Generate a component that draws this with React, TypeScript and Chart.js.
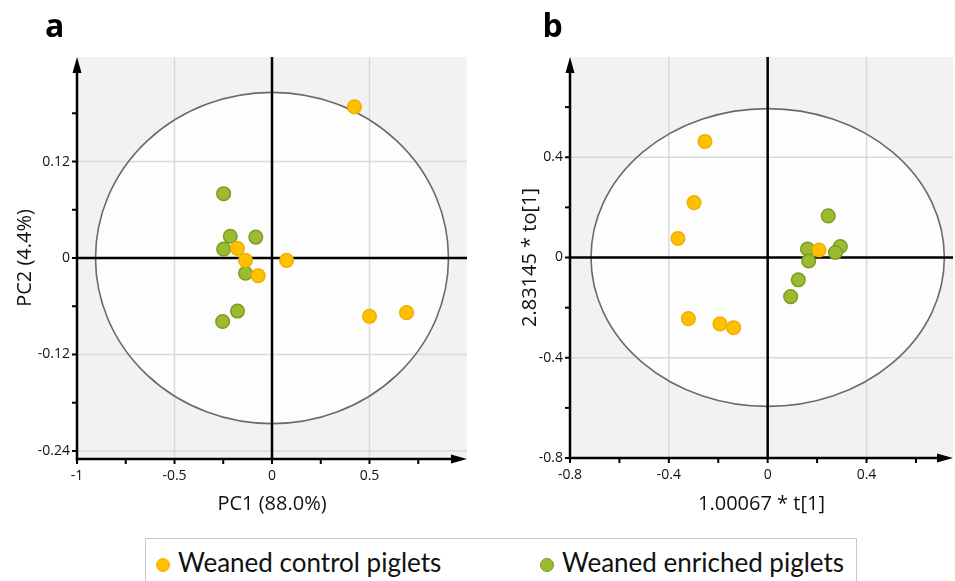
import React, { useEffect, useRef } from 'react';
import { Chart, registerables } from 'chart.js';

Chart.register(...registerables);

// ---------- Data: panel a (PCA scores) ----------
const controlAX = [0.423, -0.177, -0.136, 0.075, -0.071, 0.5, 0.69];
const controlAY = [0.188, 0.012, -0.003, -0.003, -0.022, -0.0725, -0.068];
const enrichedAX = [-0.248, -0.214, -0.083, -0.248, -0.136, -0.177, -0.253];
const enrichedAY = [0.08, 0.027, 0.026, 0.011, -0.019, -0.066, -0.079];

const xMajorA = [-1, -0.5, 0, 0.5];
const xLabelsA = ['-1', '-0.5', '0', '0.5'];
const xMinorA = [-0.75, -0.25, 0.25, 0.75];
const yMajorA = [-0.24, -0.12, 0, 0.12];
const yLabelsA = ['-0.24', '-0.12', '0', '0.12'];
const yMinorA = [-0.18, -0.06, 0.06, 0.18];

// ---------- Data: panel b (OPLS-DA scores) ----------
const controlBX = [-0.254, -0.298, -0.363, 0.208, -0.321, -0.193, -0.138];
const controlBY = [0.463, 0.219, 0.076, 0.03, -0.244, -0.265, -0.28];
const enrichedBX = [0.245, 0.161, 0.294, 0.274, 0.166, 0.124, 0.093];
const enrichedBY = [0.166, 0.034, 0.044, 0.02, -0.014, -0.089, -0.156];

const xMajorB = [-0.8, -0.4, 0, 0.4];
const xLabelsB = ['-0.8', '-0.4', '0', '0.4'];
const xMinorB = [-0.6, -0.2, 0.2, 0.6];
const yMajorB = [-0.8, -0.4, 0, 0.4];
const yLabelsB = ['-0.8', '-0.4', '0', '0.4'];
const yMinorB = [-0.6, -0.2, 0.2, 0.6];

const seriesNames = ['Weaned control piglets', 'Weaned enriched piglets'];

const ORANGE = '#FFC000';
const ORANGE_B = '#EFB000';
const GREEN = '#9BBB30';
const GREEN_B = '#7E9C22';
const TEXT = '#111111';
const FONT = '"Open Sans", "Noto Sans", sans-serif';

interface PanelCfg {
  letter: string;
  letterX: number;
  left: number;
  w: number;
  h: number;
  areaLeft: number;
  areaRight: number;
  areaTop: number;
  areaBottom: number;
  xMin: number;
  xMax: number;
  yMin: number;
  yMax: number;
  xMajor: number[];
  xLabels: string[];
  xMinor: number[];
  yMajor: number[];
  yLabels: string[];
  yMinor: number[];
  ellRx: number;
  ellRy: number;
  xTitle: string;
  yTitle: string;
  yTitleCenter: number;
  cX: number[];
  cY: number[];
  eX: number[];
  eY: number[];
}

const panelA: PanelCfg = {
  letter: 'a', letterX: 45, left: 0, w: 480, h: 530,
  areaLeft: 77, areaRight: 467, areaTop: 57, areaBottom: 459,
  xMin: -1, xMax: 1, yMin: -0.25, yMax: 0.25,
  xMajor: xMajorA, xLabels: xLabelsA, xMinor: xMinorA,
  yMajor: yMajorA, yLabels: yLabelsA, yMinor: yMinorA,
  ellRx: 0.905, ellRy: 0.206,
  xTitle: 'PC1 (88.0%)', yTitle: 'PC2 (4.4%)', yTitleCenter: 25,
  cX: controlAX, cY: controlAY, eX: enrichedAX, eY: enrichedAY,
};

const panelB: PanelCfg = {
  letter: 'b', letterX: 62.5, left: 480, w: 495, h: 530,
  areaLeft: 90, areaRight: 473, areaTop: 57, areaBottom: 458,
  xMin: -0.8, xMax: 0.75, yMin: -0.8, yMax: 0.8,
  xMajor: xMajorB, xLabels: xLabelsB, xMinor: xMinorB,
  yMajor: yMajorB, yLabels: yLabelsB, yMinor: yMinorB,
  ellRx: 0.715, ellRy: 0.594,
  xTitle: '1.00067 * t[1]', yTitle: '2.83145 * to[1]', yTitleCenter: 50,
  cX: controlBX, cY: controlBY, eX: enrichedBX, eY: enrichedBY,
};

function decorPlugin(cfg: PanelCfg) {
  return {
    id: 'decor',
    beforeDraw(chart: any) {
      const { ctx, chartArea: ca } = chart;
      const xs = chart.scales.x;
      const ys = chart.scales.y;
      const px = (v: number) => xs.getPixelForValue(v);
      const py = (v: number) => ys.getPixelForValue(v);
      const line = (x1: number, y1: number, x2: number, y2: number) => {
        ctx.beginPath();
        ctx.moveTo(x1, y1);
        ctx.lineTo(x2, y2);
        ctx.stroke();
      };
      ctx.save();
      ctx.fillStyle = '#f2f2f2';
      ctx.fillRect(ca.left, ca.top, ca.right - ca.left, ca.bottom - ca.top);
      const cx = px(0);
      const cy = py(0);
      const rx = px(cfg.ellRx) - cx;
      const ry = cy - py(cfg.ellRy);
      ctx.beginPath();
      ctx.ellipse(cx, cy, rx, ry, 0, 0, Math.PI * 2);
      ctx.fillStyle = '#fdfdfd';
      ctx.fill();
      ctx.strokeStyle = '#d9d9d9';
      ctx.lineWidth = 1.5;
      cfg.xMajor.filter((v) => v !== 0 && v !== cfg.xMin).forEach((v) => line(px(v), ca.top, px(v), ca.bottom));
      cfg.yMajor.filter((v) => v !== 0 && v !== cfg.yMin).forEach((v) => line(ca.left, py(v), ca.right, py(v)));
      ctx.beginPath();
      ctx.ellipse(cx, cy, rx, ry, 0, 0, Math.PI * 2);
      ctx.strokeStyle = '#6a6a6a';
      ctx.lineWidth = 1.6;
      ctx.stroke();
      ctx.strokeStyle = '#000';
      ctx.lineWidth = 2.5;
      line(cx, ca.top, cx, ca.bottom);
      line(ca.left, cy, ca.right, cy);
      line(ca.left, ca.bottom + 1.2, ca.left, ca.top + 10);
      line(ca.left - 1.2, ca.bottom, ca.right - 10, ca.bottom);
      ctx.fillStyle = '#000';
      ctx.beginPath();
      ctx.moveTo(ca.left, ca.top);
      ctx.lineTo(ca.left - 4.5, ca.top + 16);
      ctx.lineTo(ca.left + 4.5, ca.top + 16);
      ctx.closePath();
      ctx.fill();
      ctx.beginPath();
      ctx.moveTo(ca.right, ca.bottom);
      ctx.lineTo(ca.right - 16, ca.bottom - 4.5);
      ctx.lineTo(ca.right - 16, ca.bottom + 4.5);
      ctx.closePath();
      ctx.fill();
      ctx.lineWidth = 2;
      [...cfg.yMajor, ...cfg.yMinor].forEach((v) => line(ca.left - 5, py(v), ca.left, py(v)));
      [...cfg.xMajor, ...cfg.xMinor].forEach((v) => line(px(v), ca.bottom, px(v), ca.bottom + 5));
      ctx.restore();
    },
    afterDraw(chart: any) {
      const { ctx } = chart;
      ctx.save();
      ctx.fillStyle = '#000';
      ctx.font = `bold 32px ${FONT}`;
      ctx.textBaseline = 'alphabetic';
      ctx.textAlign = 'left';
      ctx.fillText(cfg.letter, cfg.letterX, 37);
      ctx.restore();
    },
  };
}

function Panel({ cfg }: { cfg: PanelCfg }) {
  const ref = useRef<HTMLCanvasElement>(null);
  useEffect(() => {
    const canvas = ref.current;
    if (!canvas) return;
    const mk = (xs: number[], ys: number[]) => xs.map((x, i) => ({ x, y: ys[i] }));
    const chart = new Chart(canvas, {
      type: 'scatter',
      data: {
        datasets: [
          {
            label: seriesNames[0],
            data: mk(cfg.cX, cfg.cY),
            backgroundColor: ORANGE,
            borderColor: ORANGE_B,
            borderWidth: 1.5,
            pointRadius: 6.8,
          },
          {
            label: seriesNames[1],
            data: mk(cfg.eX, cfg.eY),
            backgroundColor: GREEN,
            borderColor: GREEN_B,
            borderWidth: 1.5,
            pointRadius: 6.8,
          },
        ],
      },
      options: {
        responsive: false,
        animation: false,
        devicePixelRatio: 1,
        events: [],
        layout: { padding: { left: 0, top: cfg.areaTop, right: cfg.w - cfg.areaRight, bottom: 0 } },
        plugins: { legend: { display: false }, tooltip: { enabled: false } },
        scales: {
          x: {
            type: 'linear',
            min: cfg.xMin,
            max: cfg.xMax,
            grid: { display: false, drawTicks: false, tickLength: 0 },
            border: { display: false },
            afterBuildTicks: (s: any) => {
              s.ticks = cfg.xMajor.map((v) => ({ value: v }));
            },
            afterFit: (s: any) => {
              s.height = cfg.h - cfg.areaBottom;
              s.paddingLeft = 0;
              s.paddingRight = 0;
            },
            ticks: {
              autoSkip: false,
              maxRotation: 0,
              padding: 9,
              color: TEXT,
              font: { family: FONT, size: 14 },
              callback: (_v: any, i: number) => cfg.xLabels[i],
            },
            title: {
              display: true,
              text: cfg.xTitle,
              color: TEXT,
              font: { family: FONT, size: 20 },
              padding: { top: 0, bottom: 14 },
            },
          },
          y: {
            type: 'linear',
            min: cfg.yMin,
            max: cfg.yMax,
            grid: { display: false, drawTicks: false, tickLength: 0 },
            border: { display: false },
            afterBuildTicks: (s: any) => {
              s.ticks = cfg.yMajor.map((v) => ({ value: v }));
            },
            afterFit: (s: any) => {
              s.width = cfg.areaLeft;
              s.paddingTop = 0;
              s.paddingBottom = 0;
            },
            ticks: {
              autoSkip: false,
              padding: 7,
              color: TEXT,
              font: { family: FONT, size: 14 },
              callback: (_v: any, i: number) => cfg.yLabels[i],
            },
            title: {
              display: true,
              text: cfg.yTitle,
              color: TEXT,
              font: { family: FONT, size: 20 },
              padding: { top: cfg.yTitleCenter - 12, bottom: 0 },
            },
          },
        },
      },
      plugins: [decorPlugin(cfg)],
    } as any);
    return () => chart.destroy();
  }, [cfg]);
  return (
    <canvas
      ref={ref}
      width={cfg.w}
      height={cfg.h}
      style={{ position: 'absolute', left: cfg.left, top: 0, width: cfg.w, height: cfg.h }}
    />
  );
}

function LegendItem({ x, color, border, text }: { x: number; color: string; border: string; text: string }) {
  return (
    <>
      <div
        style={{
          position: 'absolute',
          left: x - 7,
          top: 558,
          width: 14,
          height: 14,
          borderRadius: '50%',
          background: color,
          border: `1.5px solid ${border}`,
          boxSizing: 'border-box',
        }}
      />
      <div
        style={{
          position: 'absolute',
          left: x + 15,
          top: 547,
          fontFamily: 'Lato, sans-serif',
          fontSize: 26,
          lineHeight: '31px',
          color: '#111',
          whiteSpace: 'nowrap',
        }}
      >
        {text}
      </div>
    </>
  );
}

export default function App() {
  return (
    <div
      style={{
        position: 'absolute',
        left: 0,
        top: 0,
        width: 955,
        height: 581,
        overflow: 'hidden',
        background: '#fff',
      }}
    >
      <Panel cfg={panelA} />
      <Panel cfg={panelB} />
      <div
        style={{
          position: 'absolute',
          left: 145,
          top: 538,
          width: 712,
          height: 70,
          border: '1.5px solid #c8c8c8',
          boxSizing: 'border-box',
        }}
      />
      <LegendItem x={163} color={ORANGE} border={ORANGE_B} text={seriesNames[0]} />
      <LegendItem x={547} color={GREEN} border={GREEN_B} text={seriesNames[1]} />
    </div>
  );
}
